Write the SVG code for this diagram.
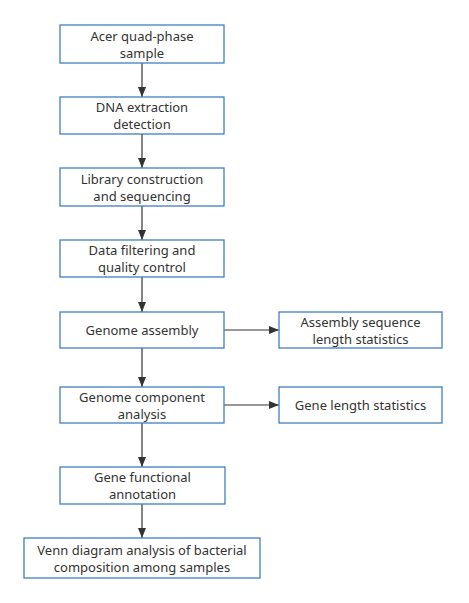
<svg xmlns="http://www.w3.org/2000/svg" width="469" height="603" viewBox="0 0 469 603">
<style>
.box{fill:#fff;stroke:#3f7fc1;stroke-width:1.3}
.t{font-family:"Noto Sans","Open Sans",sans-serif;font-size:13px;fill:#333;text-anchor:middle}
.c{stroke:#333;stroke-width:1.2;fill:none;marker-end:url(#ah)}
</style>
<defs>
<marker id="ah" viewBox="0 0 10 10" refX="10" refY="5" markerWidth="10" markerHeight="10" markerUnits="userSpaceOnUse" orient="auto">
<path d="M0,1 L10,5 L0,9 Z" fill="#333"/>
</marker>
</defs>
<rect width="469" height="603" fill="#fff"/>
<g id="connectors">
<line class="c" x1="142" y1="63" x2="142" y2="97"/>
<line class="c" x1="142" y1="134" x2="142" y2="168"/>
<line class="c" x1="142" y1="206" x2="142" y2="240"/>
<line class="c" x1="142" y1="277" x2="142" y2="312"/>
<line class="c" x1="142" y1="348" x2="142" y2="387"/>
<line class="c" x1="142" y1="423" x2="142" y2="467"/>
<line class="c" x1="142" y1="504" x2="142" y2="538"/>
<line class="c" x1="224" y1="330" x2="279" y2="330"/>
<line class="c" x1="224" y1="405" x2="279" y2="405"/>
</g>
<g id="n1"><rect class="box" x="60" y="25" width="164" height="38"/><text class="t" x="142" y="40.5">Acer quad-phase</text><text class="t" x="142" y="57.5">sample</text></g>
<g id="n2"><rect class="box" x="60" y="97" width="164" height="37"/><text class="t" x="142" y="112">DNA extraction</text><text class="t" x="142" y="129">detection</text></g>
<g id="n3"><rect class="box" x="60" y="168" width="164" height="38"/><text class="t" x="142" y="183.5">Library construction</text><text class="t" x="142" y="200.5">and sequencing</text></g>
<g id="n4"><rect class="box" x="60" y="240" width="164" height="37"/><text class="t" x="142" y="255">Data filtering and</text><text class="t" x="142" y="272">quality control</text></g>
<g id="n5"><rect class="box" x="60" y="312" width="164" height="36"/><text class="t" x="142" y="335">Genome assembly</text></g>
<g id="n6"><rect class="box" x="279" y="312" width="163" height="36"/><text class="t" x="360.5" y="326.5">Assembly sequence</text><text class="t" x="360.5" y="343.5">length statistics</text></g>
<g id="n7"><rect class="box" x="60" y="387" width="164" height="36"/><text class="t" x="142" y="401.5">Genome component</text><text class="t" x="142" y="418.5">analysis</text></g>
<g id="n8"><rect class="box" x="279" y="387" width="163" height="36"/><text class="t" x="360.5" y="410">Gene length statistics</text></g>
<g id="n9"><rect class="box" x="60" y="467" width="165" height="37"/><text class="t" x="142.5" y="482">Gene functional</text><text class="t" x="142.5" y="499">annotation</text></g>
<g id="n10"><rect class="box" x="24" y="538" width="236" height="40"/><text class="t" x="142" y="554.5">Venn diagram analysis of bacterial</text><text class="t" x="142" y="571.5">composition among samples</text></g>
</svg>
